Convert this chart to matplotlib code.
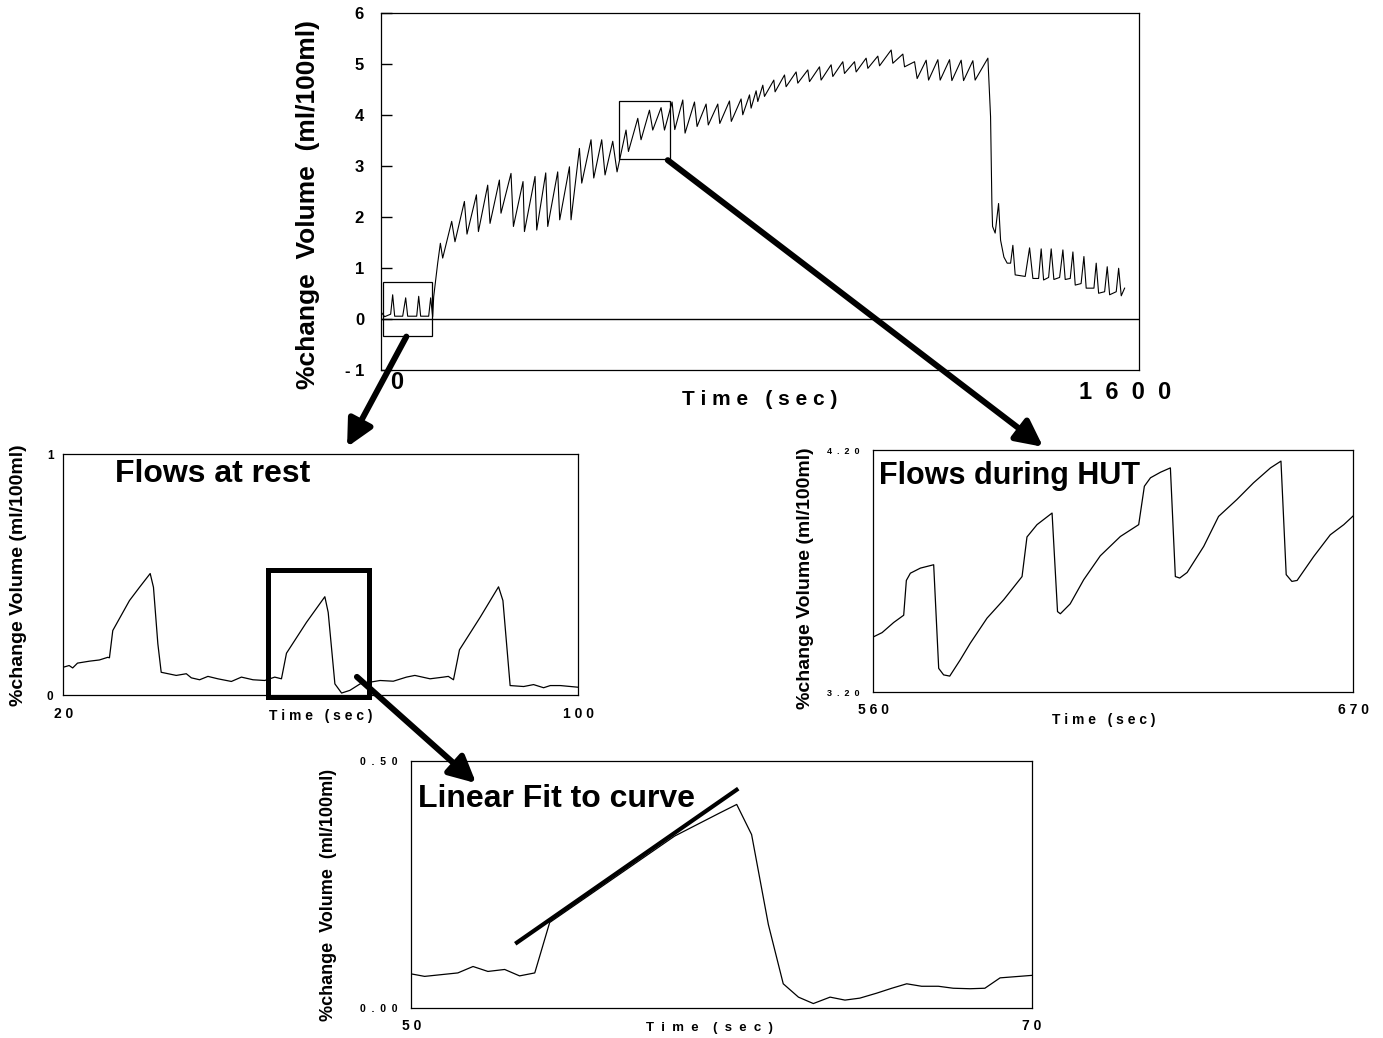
import matplotlib.pyplot as plt
import matplotlib.transforms as mtransforms
from matplotlib.patches import Rectangle, ConnectionPatch, ArrowStyle

plt.rcParams['font.family'] = ['Liberation Sans', 'DejaVu Sans']
plt.rcParams['font.weight'] = 'bold'

# whole recording (top panel)
main_t = [-35, -26.4, -13.2, -8.8, -4.4, 13.2, 19.8, 24.2, 44.0, 48.4, 52.7, 70.3, 74.7, 79.1,
          81.3, 90.1, 96.0, 101.1,
          120.9, 128.1, 148.8, 154.5, 175.2, 179.6, 200.0, 205.1, 225.7, 229.2, 251.2, 256.5,
          277.6, 280.7, 304.0, 307.7, 327.5, 331.9, 353.8, 358.2, 379.6, 383.1, 401.5, 406.6,
          427.0, 433.0, 450.5, 457.8, 474.7, 484.2,
          503.9, 509.2, 529.7, 536.9, 555.4, 562.6, 580.9, 588.4, 605.1, 611.0,
          628.6, 633.6, 654.3, 660.0, 679.8, 684.6, 705.5, 709.9, 731.2, 735.2, 756.7, 760.4,
          775.2, 778.7, 789.7, 793.4,
          804.4, 808.1, 828.6, 831.4, 852.1, 855.6, 877.6, 881.3, 903.3, 907.0, 929.0, 932.5,
          954.5, 958.2, 980.2, 983.9, 1005.9, 1009.5, 1031.4, 1035.2, 1057.1, 1060.9, 1086.4, 1090.1,
          1112.1, 1115.8, 1137.8, 1143.5, 1163.3, 1168.6, 1189.0, 1194.1, 1214.7, 1219.8,
          1240.2, 1245.5, 1265.9, 1270.9, 1298.9,
          1304.8, 1307.7, 1309.2, 1314.9, 1322.4, 1326.8, 1334.1, 1341.3, 1348.8, 1353.8, 1358.9,
          1380.9, 1390.5, 1397.8, 1410.3, 1416.0, 1421.3, 1432.3, 1438.0, 1443.9, 1456.5, 1463.7,
          1468.8, 1479.8, 1485.7, 1490.8, 1503.7, 1509.9, 1514.9, 1531.9, 1536.9, 1542.2, 1555.4,
          1561.1, 1566.4, 1580.9, 1586.2, 1591.9, 1599.3]
main_v = [0.15, 0.05, 0.10, 0.48, 0.06, 0.06, 0.42, 0.06, 0.06, 0.45, 0.06, 0.06, 0.42, 0.05,
          0.44, 1.10, 1.49, 1.20,
          1.92, 1.52, 2.31, 1.67, 2.44, 1.72, 2.63, 1.88, 2.73, 2.08, 2.86, 1.82,
          2.70, 1.72, 2.80, 1.75, 2.87, 1.82, 2.89, 1.95, 2.99, 1.95, 3.35, 2.67,
          3.52, 2.77, 3.52, 2.83, 3.49, 2.89,
          3.71, 3.29, 3.94, 3.52, 4.10, 3.71, 4.15, 3.71, 4.26, 3.72,
          4.30, 3.65, 4.26, 3.78, 4.22, 3.81, 4.22, 3.84, 4.28, 3.88, 4.32, 4.01,
          4.40, 4.14, 4.48, 4.27,
          4.59, 4.37, 4.69, 4.46, 4.79, 4.56, 4.85, 4.63, 4.89, 4.66, 4.95, 4.69,
          4.99, 4.76, 5.05, 4.82, 5.05, 4.85, 5.12, 4.92, 5.16, 4.97, 5.28, 5.02,
          5.20, 4.95, 5.05, 4.72, 5.08, 4.69, 5.09, 4.69, 5.09, 4.68,
          5.08, 4.68, 5.07, 4.69, 5.12,
          3.97, 2.27, 1.82, 1.69, 2.27, 1.55, 1.22, 1.10, 1.10, 1.45, 0.87,
          0.84, 1.40, 0.80, 0.80, 1.38, 0.77, 0.82, 1.38, 0.78, 0.82, 1.36,
          0.78, 0.80, 1.32, 0.67, 0.70, 1.23, 0.61, 0.61, 1.10, 0.51, 0.54,
          1.03, 0.48, 0.54, 1.00, 0.46, 0.61]

# flows at rest (20-100 s)
rest_t = [20.0, 20.9, 21.45, 22.2, 24.05, 25.6, 26.9, 27.16, 27.68, 30.27, 31.83, 33.49, 34.0,
          34.68, 35.2, 37.54, 39.1, 39.88, 41.17, 42.46, 44.0, 46.1, 47.66, 49.46, 51.28, 52.84,
          53.88, 54.66, 57.77, 60.62, 61.14, 62.18, 63.22, 64.5, 66.1, 69.2, 71.25, 73.3, 74.6,
          76.96, 79.03, 79.8, 80.6, 81.53, 84.75, 87.6, 88.28, 89.4, 91.5, 93.04, 94.6, 95.64,
          97.2, 100.0]
rest_v = [0.117, 0.124, 0.114, 0.134, 0.142, 0.147, 0.158, 0.156, 0.269, 0.393, 0.448, 0.505,
          0.448, 0.214, 0.096, 0.083, 0.09, 0.073, 0.065, 0.079, 0.069, 0.058, 0.076, 0.065,
          0.062, 0.076, 0.069, 0.175, 0.303, 0.409, 0.344, 0.048, 0.01, 0.021, 0.048, 0.062,
          0.059, 0.076, 0.083, 0.069, 0.076, 0.079, 0.065, 0.189, 0.324, 0.45, 0.393, 0.041,
          0.037, 0.045, 0.032, 0.041, 0.041, 0.034]

# flows during HUT (560-670 s)
hut_t = [560.08, 562.0, 564.66, 566.95, 567.56, 568.48, 570.77, 573.82, 574.97, 576.1, 577.5,
         579.9, 582.2, 586.05, 589.86, 594.07, 595.2, 597.5, 600.95, 602.2, 602.85, 605.1,
         608.2, 612.0, 616.6, 620.8, 622.1, 623.5, 625.8, 628.06, 629.2, 630.2, 631.9, 635.7,
         639.1, 643.3, 647.1, 651.0, 653.4, 654.6, 655.9, 657.1, 660.9, 664.7, 667.8, 670.0]
hut_v = [3.429, 3.446, 3.488, 3.518, 3.662, 3.692, 3.713, 3.727, 3.298, 3.271, 3.266, 3.333,
         3.402, 3.506, 3.582, 3.678, 3.842, 3.893, 3.941, 3.533, 3.524, 3.565, 3.665, 3.764,
         3.844, 3.893, 4.052, 4.087, 4.11, 4.128, 3.678, 3.672, 3.695, 3.803, 3.927, 3.997,
         4.066, 4.128, 4.156, 3.686, 3.658, 3.662, 3.761, 3.851, 3.893, 3.93]

# single beat with linear fit (50-70 s)
fit_t = [50.0, 50.43, 51.5, 51.99, 52.47, 53.01, 53.49, 53.98, 54.46, 58.49, 59.95, 60.49,
         60.97, 61.51, 61.99, 62.48, 62.96, 63.50, 63.98, 64.46, 65.00, 65.49, 65.97, 66.45,
         66.99, 67.47, 68.01, 68.49, 68.98, 70.0]
fit_v = [0.069, 0.064, 0.071, 0.084, 0.074, 0.078, 0.065, 0.071, 0.173, 0.348, 0.395, 0.412,
         0.351, 0.169, 0.049, 0.022, 0.009, 0.022, 0.016, 0.020, 0.030, 0.040, 0.049, 0.044,
         0.044, 0.040, 0.039, 0.040, 0.061, 0.066]
line_t = [53.35, 60.54]
line_v = [0.130, 0.444]

ylab = '%change  Volume  (ml/100ml)'
ylab2 = '%change Volume (ml/100ml)'

fig = plt.figure(figsize=(13.83, 10.38), dpi=100)

# ---- top panel
ax = fig.add_axes([0.2753, 0.6433, 0.5483, 0.3439])
ax.plot(main_t, main_v, color='black', lw=0.8)
ax.axhline(0, color='black', lw=1.0)
ax.set_xlim(-35, 1631)
ax.set_ylim(-1, 6)
ax.set_xticks([])
ax.set_yticks(range(-1, 7))
ax.set_yticklabels(['- 1', '0', '1', '2', '3', '4', '5', '6'], fontsize=12, fontweight='bold')
ax.tick_params(axis='y', direction='in', length=8, width=1, pad=12)
tr = mtransforms.blended_transform_factory(ax.transData, ax.transAxes)
ax.text(0, -0.033, '0', transform=tr, ha='center', va='center', fontsize=17, fontweight='bold')
ax.text(1600, -0.061, '1  6  0  0', transform=tr, ha='center', va='center', fontsize=17,
        fontweight='bold')
ax.text(0.5, -0.083, 'T i m e   ( s e c )', transform=ax.transAxes, ha='center', va='center',
        fontsize=15, fontweight='bold')
ax.text(-0.096, 0.463, ylab, transform=ax.transAxes, rotation=90, ha='center', va='center',
        fontsize=19, fontweight='bold')
ax.add_patch(Rectangle((-30.8, -0.327), 107.7, 1.064, fill=False, lw=0.9, color='black'))
ax.add_patch(Rectangle((487.9, 3.137), 112.8, 1.143, fill=False, lw=0.9, color='black'))

# ---- flows at rest
axr = fig.add_axes([0.0458, 0.3300, 0.3724, 0.2326])
axr.plot(rest_t, rest_v, color='black', lw=0.9)
axr.set_xlim(20, 100)
axr.set_ylim(0, 1)
axr.set_xticks([20, 100])
axr.set_xticklabels(['2 0', '1 0 0'], fontsize=10, fontweight='bold')
axr.set_yticks([0, 1])
axr.set_yticklabels(['0', '1'], fontsize=8.5, fontweight='bold')
axr.tick_params(axis='x', length=0, pad=8)
axr.tick_params(axis='y', length=0, pad=7)
axr.text(0.5, -0.085, 'T i m e   ( s e c )', transform=axr.transAxes, ha='center',
         va='center', fontsize=10, fontweight='bold')
axr.text(-0.088, 0.5, ylab2, transform=axr.transAxes, rotation=90, ha='center', va='center',
         fontsize=14, fontweight='bold')
axr.text(0.100, 0.917, 'Flows at rest', transform=axr.transAxes, ha='left', va='center',
         fontsize=23, fontweight='bold')
axr.add_patch(Rectangle((51.72, -0.006), 15.77, 0.524, fill=False, lw=3.6, color='black',
                        clip_on=False))

# ---- flows during HUT
axh = fig.add_axes([0.6315, 0.3333, 0.3471, 0.2327])
axh.plot(hut_t, hut_v, color='black', lw=0.9)
axh.set_xlim(560, 670)
axh.set_ylim(3.2, 4.2)
axh.set_xticks([560, 670])
axh.set_xticklabels(['5 6 0', '6 7 0'], fontsize=10, fontweight='bold')
axh.set_yticks([3.2, 4.2])
axh.set_yticklabels(['3  .  2  0', '4  .  2  0'], fontsize=6.5, fontweight='bold')
axh.tick_params(axis='x', length=0, pad=8)
axh.tick_params(axis='y', length=0, pad=10)
axh.text(0.48, -0.116, 'T i m e   ( s e c )', transform=axh.transAxes, ha='center',
         va='center', fontsize=10, fontweight='bold')
axh.text(-0.142, 0.472, ylab2, transform=axh.transAxes, rotation=90, ha='center', va='center',
         fontsize=14, fontweight='bold')
axh.text(0.012, 0.894, 'Flows during HUT', transform=axh.transAxes, ha='left', va='center',
         fontsize=22, fontweight='bold')

# ---- linear fit
axf = fig.add_axes([0.2974, 0.0289, 0.4486, 0.2380])
axf.plot(fit_t, fit_v, color='black', lw=0.9)
axf.plot(line_t, line_v, color='black', lw=3.0, solid_capstyle='butt')
axf.set_xlim(50, 70)
axf.set_ylim(0, 0.5)
axf.set_xticks([50, 70])
axf.set_xticklabels(['5 0', '7 0'], fontsize=10, fontweight='bold')
axf.set_yticks([0, 0.5])
axf.set_yticklabels(['0  .  0  0', '0  .  5  0'], fontsize=7.5, fontweight='bold')
axf.tick_params(axis='x', length=0, pad=8)
axf.tick_params(axis='y', length=0, pad=10)
axf.text(0.48, -0.081, 'T  i  m  e    (  s  e  c  )', transform=axf.transAxes, ha='center',
         va='center', fontsize=9.5, fontweight='bold')
axf.text(-0.134, 0.457, ylab, transform=axf.transAxes, rotation=90, ha='center', va='center',
         fontsize=13, fontweight='bold')
axf.text(0.011, 0.846, 'Linear Fit to curve', transform=axf.transAxes, ha='left', va='center',
         fontsize=23, fontweight='bold')

for a in (ax, axr, axh, axf):
    for s in a.spines.values():
        s.set_linewidth(0.9)

# ---- thick arrows linking the panels
head = ArrowStyle('-|>', head_length=1.6, head_width=0.8)
links = [((21.3, -0.34), ax, (64.07, 1.029), axr),
         ((595.6, 3.12), ax, (598.9, 4.215), axh),
         ((65.6, 0.077), axr, (52.09, 0.455), axf)]
for xa, aa, xb, ab in links:
    con = ConnectionPatch(xyA=xa, coordsA=aa.transData, xyB=xb, coordsB=ab.transData,
                          arrowstyle=head, mutation_scale=10, lw=4.3, color='black',
                          shrinkA=0, shrinkB=0)
    fig.add_artist(con)

fig.savefig('out.png', dpi=100)
